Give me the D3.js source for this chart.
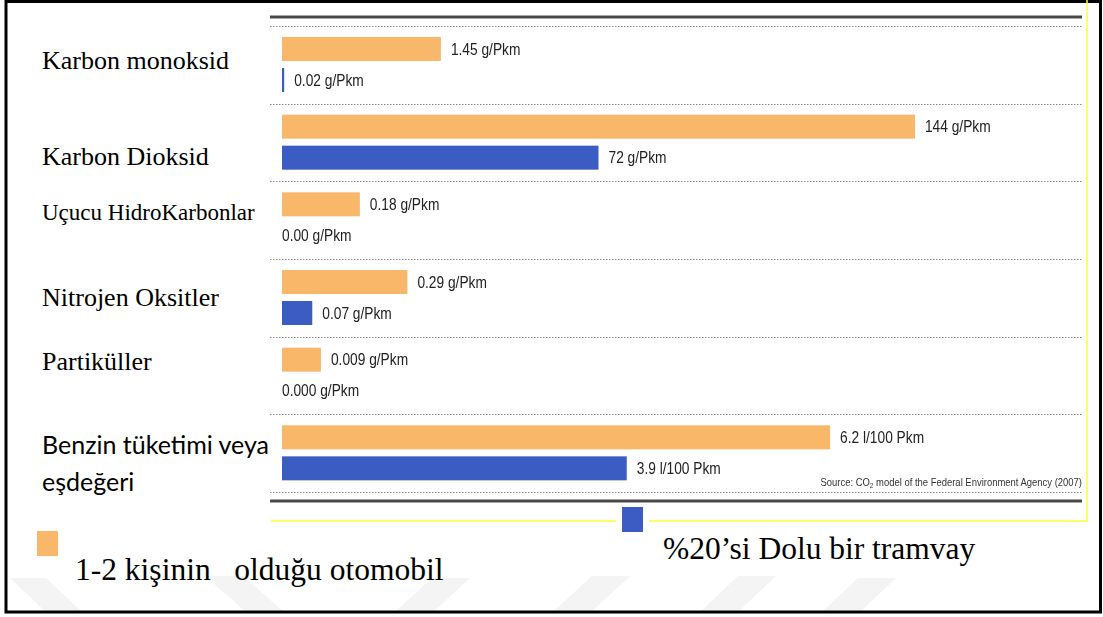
<!DOCTYPE html>
<html>
<head>
<meta charset="utf-8">
<script src="https://cdn.jsdelivr.net/npm/d3@7"></script>
<style>
  html, body { margin: 0; padding: 0; background: #fff; }
  svg { display: block; }
</style>
</head>
<body>
<svg id="chart" width="1103" height="617"></svg>
<script>
// Emissions per passenger-km: car with 1-2 occupants vs. tram at 20% load
const categories = [
  "Karbon monoksid",
  "Karbon Dioksid",
  "Uçucu HidroKarbonlar",
  "Nitrojen Oksitler",
  "Partiküller",
  "Benzin tüketimi veya eşdeğeri"
];
const carValues  = [1.45, 144, 0.18, 0.29, 0.009, 6.2];
const tramValues = [0.02, 72, 0.00, 0.07, 0.000, 3.9];
const carLabels  = ["1.45 g/Pkm", "144 g/Pkm", "0.18 g/Pkm", "0.29 g/Pkm", "0.009 g/Pkm", "6.2 l/100 Pkm"];
const tramLabels = ["0.02 g/Pkm", "72 g/Pkm", "0.00 g/Pkm", "0.07 g/Pkm", "0.000 g/Pkm", "3.9 l/100 Pkm"];
// each row is drawn on its own linear scale; this is the value at the full panel width
const rowScaleMax = [7.3, 182, 1.85, 1.85, 0.185, 9.05];
const seriesKeys  = ["car", "tram"];
const seriesNames = ["1-2 kişinin   olduğu otomobil", "%20’si Dolu bir tramvay"];
const sourceNote  = ["Source: CO", "2", " model of the Federal Environment Agency (2007)"];

const colors = { car: "#F8B769", tram: "#3B5DC3" };
const narrowFont = "'Liberation Sans Narrow', 'Liberation Sans', sans-serif";
const narrowScale = 0.86;

const svg = d3.select("#chart");
const defs = svg.append("defs");
defs.append("filter").attr("id", "soft")
  .append("feGaussianBlur").attr("stdDeviation", 0.55);

// faint watermark stripes along the bottom
const wm = svg.append("g").attr("fill", "#f4f4f4");
const stripes = [
  [[10,578],[46,578],[82,612],[46,612]],
  [[205,576],[243,576],[284,612],[246,612]],
  [[395,612],[433,612],[470,578],[432,578]],
  [[553,612],[591,612],[630,576],[592,576]],
  [[700,612],[738,612],[776,576],[738,576]],
  [[822,612],[860,612],[896,578],[858,578]]
];
wm.selectAll("polygon").data(stripes).join("polygon")
  .attr("points", d => d.map(p => p.join(",")).join(" "));

// outer frame
svg.append("rect")
  .attr("x", 6).attr("y", 1.5).attr("width", 1094.5).attr("height", 610.5)
  .attr("fill", "none").attr("stroke", "#000").attr("stroke-width", 3);

// panel frame (right and bottom edges)
svg.append("path")
  .attr("d", "M1087,0 V521 H271")
  .attr("fill", "none").attr("stroke", "#ffff33").attr("stroke-width", 1.5);

const panelLeft = 282, panelRight = 1082;

const y = d3.scaleBand().domain(categories).range([26, 492]).padding(0);
const ySub = d3.scaleBand().domain(seriesKeys).range([11, 66]).paddingInner(0.226).paddingOuter(0);
const xScales = rowScaleMax.map(m => d3.scaleLinear().domain([0, m]).range([panelLeft, panelRight]));

const panel = svg.append("g").attr("filter", "url(#soft)");

// heavy rules top and bottom
[17, 501].forEach(yy => {
  panel.append("line")
    .attr("x1", 270).attr("x2", panelRight).attr("y1", yy).attr("y2", yy)
    .attr("stroke", "#4a4a4a").attr("stroke-width", 3);
});

// dotted row separators
const sepY = categories.map(c => y(c)).concat([y.range()[1]]);
panel.selectAll("line.sep").data(sepY).join("line")
  .attr("class", "sep")
  .attr("x1", 270).attr("x2", panelRight)
  .attr("y1", d => Math.round(d) + 0.5).attr("y2", d => Math.round(d) + 0.5)
  .attr("stroke", "#8a8a8a").attr("stroke-width", 1.2)
  .attr("stroke-dasharray", "1.5,1.5");

const rows = categories.map((c, i) => ({
  cat: c, i,
  bars: [
    { key: "car",  v: carValues[i],  label: carLabels[i] },
    { key: "tram", v: tramValues[i], label: tramLabels[i] }
  ]
}));

const rowG = panel.selectAll("g.row").data(rows).join("g")
  .attr("class", "row")
  .attr("transform", d => `translate(0,${y(d.cat)})`);

rowG.each(function(r) {
  const g = d3.select(this);
  const x = xScales[r.i];
  g.selectAll("rect").data(r.bars.filter(b => b.v > 0)).join("rect")
    .attr("x", x(0))
    .attr("y", b => ySub(b.key))
    .attr("width", b => x(b.v) - x(0))
    .attr("height", ySub.bandwidth())
    .attr("fill", b => colors[b.key]);
  g.selectAll("text").data(r.bars).join("text")
    .attr("transform", b =>
      `translate(${x(b.v) + (b.v > 0 ? 10 : 0)},${ySub(b.key) + ySub.bandwidth() / 2}) scale(${narrowScale},1)`)
    .attr("dy", "0.35em")
    .attr("font-family", narrowFont)
    .attr("font-size", 16)
    .attr("fill", "#222")
    .text(b => b.label);
});

// source note
const src = panel.append("text")
  .attr("transform", `translate(${panelRight},486) scale(${narrowScale},1)`)
  .attr("text-anchor", "end")
  .attr("font-family", narrowFont)
  .attr("font-size", 11)
  .attr("fill", "#333");
src.append("tspan").text(sourceNote[0]);
src.append("tspan").attr("dy", 2).attr("font-size", 7.5).text(sourceNote[1]);
src.append("tspan").attr("dy", -2).text(sourceNote[2]);

// category names on the left
const labelBaselines = [69, 165, 220, 306, 370, 454];
const labelG = svg.append("g");
categories.forEach((c, i) => {
  if (i < 5) {
    labelG.append("text")
      .attr("x", 42).attr("y", labelBaselines[i])
      .attr("font-family", "'Liberation Serif', 'Times New Roman', serif")
      .attr("font-size", i === 2 ? 23 : 26)
      .attr("fill", "#000")
      .text(c);
  } else {
    const words = c.split(" ");
    const t = labelG.append("text")
      .attr("x", 42).attr("y", labelBaselines[i])
      .attr("font-family", "Lato, 'Open Sans', sans-serif")
      .attr("font-size", 25)
      .attr("fill", "#000");
    t.append("tspan").attr("x", 42).text(words.slice(0, 3).join(" "));
    t.append("tspan").attr("x", 42).attr("dy", 37).text(words.slice(3).join(" "));
  }
});

// legend
const legend = [
  { key: "car",  name: seriesNames[0], sx: 37,  sy: 531, tx: 75,  ty: 580 },
  { key: "tram", name: seriesNames[1], sx: 622, sy: 507, tx: 663, ty: 559 }
];
const lg = svg.append("g");
// white backing that clears the panel edge behind each swatch
lg.selectAll("rect.bg").data(legend).join("rect")
  .attr("class", "bg")
  .attr("x", d => d.sx - 6).attr("y", d => d.sy - 4)
  .attr("width", 33).attr("height", 33)
  .attr("fill", "#fff");
lg.selectAll("rect.sw").data(legend).join("rect")
  .attr("class", "sw")
  .attr("x", d => d.sx).attr("y", d => d.sy)
  .attr("width", 21).attr("height", 25)
  .attr("fill", d => colors[d.key]);
lg.selectAll("text").data(legend).join("text")
  .attr("x", d => d.tx).attr("y", d => d.ty)
  .attr("font-family", "'Liberation Serif', 'Times New Roman', serif")
  .attr("font-size", 31.5)
  .attr("fill", "#000")
  .style("white-space", "pre")
  .text(d => d.name);
</script>
</body>
</html>
